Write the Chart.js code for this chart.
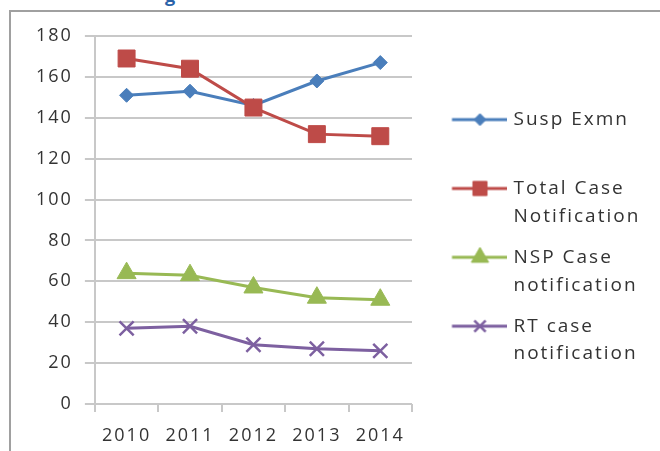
<!DOCTYPE html>
<html>
<head>
<meta charset="utf-8">
<script src="https://cdn.jsdelivr.net/npm/chart.js@4.4.1/dist/chart.umd.min.js"></script>
<style>
  html, body { margin: 0; padding: 0; background: #fff; overflow: hidden; }
  #wrap { position: relative; width: 660px; height: 451px; overflow: hidden; }
  #frame { position: absolute; left: 9px; top: 10px; width: 700px; height: 500px;
           border-left: 2px solid #a0a0a0; border-top: 2px solid #a0a0a0; }
  #head { position: absolute; left: 165px; top: -17px; font: bold 18px "Open Sans", sans-serif; color: #2a62a8; }
  canvas { position: absolute; left: 0; top: 0; }
</style>
</head>
<body>
<div id="wrap">
  <div id="head">g</div>
  <div id="frame"></div>
  <canvas id="chart" width="660" height="451"></canvas>
</div>
<script>
// --- данные ---
const years = ['2010', '2011', '2012', '2013', '2014'];
const suspExmn = [151, 153, 146, 158, 167];
const totalCase = [169, 164, 145, 132, 131];
const nspCase = [64, 63, 57, 52, 51];
const rtCase = [37, 38, 29, 27, 26];

const seriesNames = [
  ['Susp Exmn', ''],
  ['Total Case', 'Notification'],
  ['NSP Case', 'notification'],
  ['RT case', 'notification']
];
const colors = ['#4a7ebb', '#be4b48', '#98b954', '#7d60a0'];
const Y_MIN = 0, Y_MAX = 180, Y_STEP = 20;

// --- маркеры ---
const styles = ['rectRot', 'rect', 'triangle', 'crossRot'];
const radii = [7, 12, 11, 10];
const legendRadii = [6, 10, 10, 8];

// --- картинка для легенды: линия + маркер ---
function legendImage(i) {
  const c = document.createElement('canvas');
  c.width = 84; c.height = 24;
  const g = c.getContext('2d');
  g.strokeStyle = colors[i];
  g.lineWidth = 3;
  g.beginPath();
  g.moveTo(29.5, 12);
  g.lineTo(84, 12);
  g.stroke();
  g.fillStyle = colors[i];
  g.lineWidth = styles[i] === 'crossRot' ? 2.5 : 1;
  Chart.helpers.drawPoint(g, { pointStyle: styles[i], radius: legendRadii[i], rotation: 0, borderWidth: g.lineWidth }, 57.5, 12);
  return c;
}

const seriesData = [suspExmn, totalCase, nspCase, rtCase];
const datasets = seriesData.map((d, i) => ({
  label: seriesNames[i].join(' '),
  data: d,
  borderColor: colors[i],
  backgroundColor: colors[i],
  borderWidth: 3,
  pointStyle: styles[i],
  pointRadius: radii[i],
  pointBorderWidth: styles[i] === 'crossRot' ? 2.5 : 1,
  pointHoverRadius: radii[i],
  tension: 0,
  order: 4 - i
}));

// --- межбуквенный интервал, как в растянутом оригинале ---
const spacing = {
  id: 'spacing',
  beforeUpdate(c) { c.ctx.letterSpacing = '2px'; },
  beforeLayout(c) { c.ctx.letterSpacing = '2px'; },
  beforeDraw(c) { c.ctx.letterSpacing = '2px'; }
};

const ctx = document.getElementById('chart').getContext('2d');
new Chart(ctx, {
  type: 'line',
  data: { labels: years, datasets: datasets },
  plugins: [spacing],
  options: {
    responsive: false,
    animation: false,
    layout: { padding: { left: 24, top: 36, right: 18, bottom: 4.4 } },
    scales: {
      x: {
        offset: true,
        grid: { offset: true, drawOnChartArea: false, drawTicks: true, tickLength: 8, color: '#c8c8c8', lineWidth: 2 },
        border: { display: false },
        ticks: { color: '#333', padding: 13, maxRotation: 0, font: { family: 'Open Sans', size: 18 } },
        afterFit(s) { s.height -= 13; }
      },
      y: {
        min: Y_MIN,
        max: Y_MAX,
        ticks: { stepSize: Y_STEP, color: '#333', padding: 12, font: { family: 'Open Sans', size: 18 } },
        grid: { color: '#c8c8c8', lineWidth: 2, tickLength: 10 },
        border: { color: '#c8c8c8', width: 2 }
      }
    },
    plugins: {
      tooltip: { enabled: false },
      legend: {
        position: 'right',
        maxWidth: 230,
        labels: {
          usePointStyle: true,
          pointStyleWidth: 79,
          padding: 13,
          color: '#333',
          font: { family: 'Open Sans', size: 19, lineHeight: 1.47 },
          generateLabels: () => seriesNames.map((t, i) => ({
            text: t,
            fillStyle: colors[i],
            strokeStyle: colors[i],
            lineWidth: 0,
            pointStyle: legendImage(i),
            hidden: false,
            datasetIndex: i,
            fontColor: '#333'
          }))
        }
      }
    }
  }
});
</script>
</body>
</html>
